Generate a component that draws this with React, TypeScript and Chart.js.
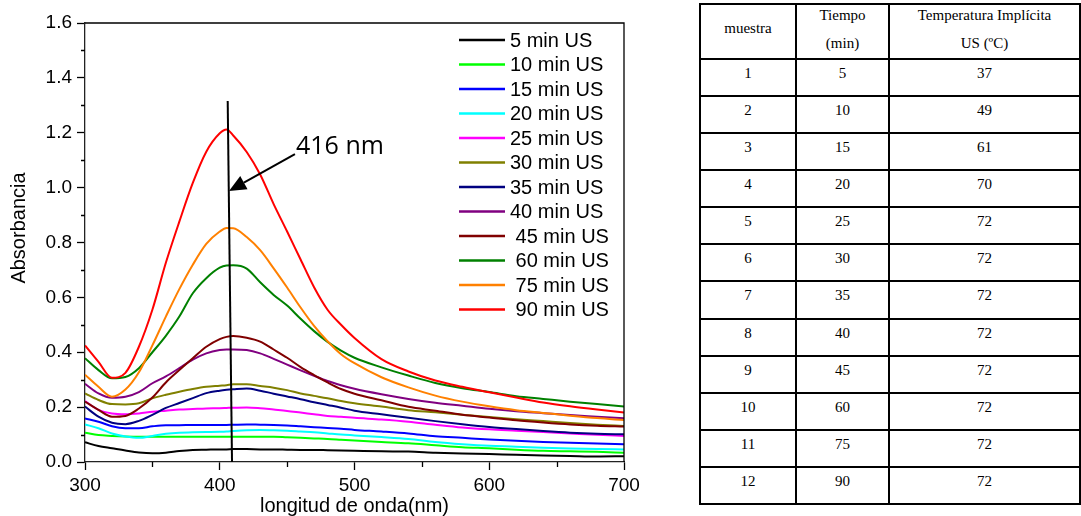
import React, { useEffect, useRef } from "react";
import { Chart, registerables } from "chart.js";

Chart.register(...registerables);

// ---------- DATA ----------
const wavelengths = [300, 310, 320, 330, 340, 350, 360, 370, 380, 390, 400, 405, 410, 420, 430, 440, 450, 460, 470, 480, 490, 500, 520, 540, 560, 580, 600, 620, 640, 660, 680, 700];

const min5 = [0.072, 0.058, 0.05, 0.042, 0.035, 0.032, 0.034, 0.04, 0.044, 0.045, 0.046, 0.046, 0.047, 0.047, 0.046, 0.046, 0.045, 0.044, 0.044, 0.043, 0.042, 0.041, 0.039, 0.038, 0.034, 0.031, 0.029, 0.026, 0.024, 0.022, 0.02, 0.021];
const min10 = [0.107, 0.098, 0.095, 0.093, 0.092, 0.092, 0.092, 0.092, 0.092, 0.092, 0.092, 0.092, 0.092, 0.092, 0.092, 0.092, 0.09, 0.088, 0.086, 0.084, 0.081, 0.078, 0.073, 0.068, 0.061, 0.054, 0.05, 0.045, 0.041, 0.039, 0.037, 0.034];
const min15 = [0.159, 0.147, 0.13, 0.123, 0.123, 0.13, 0.134, 0.134, 0.135, 0.135, 0.135, 0.135, 0.136, 0.137, 0.136, 0.135, 0.133, 0.13, 0.127, 0.124, 0.121, 0.117, 0.111, 0.104, 0.094, 0.088, 0.082, 0.077, 0.073, 0.07, 0.067, 0.065];
const min20 = [0.137, 0.123, 0.104, 0.093, 0.088, 0.095, 0.103, 0.107, 0.108, 0.109, 0.11, 0.111, 0.113, 0.116, 0.117, 0.116, 0.114, 0.111, 0.108, 0.104, 0.1, 0.097, 0.091, 0.084, 0.073, 0.065, 0.059, 0.056, 0.052, 0.049, 0.047, 0.046];
const min25 = [0.222, 0.19, 0.177, 0.174, 0.177, 0.183, 0.187, 0.191, 0.193, 0.195, 0.196, 0.197, 0.198, 0.199, 0.196, 0.191, 0.186, 0.18, 0.174, 0.168, 0.165, 0.161, 0.155, 0.147, 0.136, 0.126, 0.119, 0.114, 0.109, 0.104, 0.099, 0.095];
const min30 = [0.25, 0.226, 0.211, 0.21, 0.214, 0.232, 0.245, 0.256, 0.266, 0.274, 0.278, 0.28, 0.283, 0.283, 0.277, 0.271, 0.262, 0.25, 0.241, 0.232, 0.222, 0.214, 0.202, 0.189, 0.181, 0.172, 0.164, 0.156, 0.149, 0.142, 0.136, 0.131];
const min35 = [0.202, 0.165, 0.143, 0.138, 0.15, 0.172, 0.197, 0.215, 0.233, 0.251, 0.26, 0.263, 0.265, 0.268, 0.26, 0.249, 0.239, 0.229, 0.218, 0.208, 0.198, 0.187, 0.174, 0.161, 0.149, 0.138, 0.128, 0.12, 0.113, 0.107, 0.103, 0.101];
const min40 = [0.285, 0.25, 0.234, 0.238, 0.255, 0.287, 0.312, 0.342, 0.373, 0.396, 0.408, 0.41, 0.41, 0.408, 0.396, 0.376, 0.355, 0.334, 0.314, 0.295, 0.28, 0.267, 0.247, 0.23, 0.216, 0.205, 0.194, 0.185, 0.178, 0.171, 0.165, 0.159];
const min45 = [0.22, 0.19, 0.165, 0.168, 0.195, 0.235, 0.29, 0.335, 0.378, 0.42, 0.448, 0.456, 0.459, 0.453, 0.439, 0.41, 0.38, 0.346, 0.317, 0.29, 0.266, 0.249, 0.225, 0.201, 0.187, 0.172, 0.162, 0.152, 0.144, 0.137, 0.132, 0.129];
const min60 = [0.378, 0.335, 0.305, 0.31, 0.342, 0.4, 0.46, 0.53, 0.615, 0.67, 0.708, 0.716, 0.717, 0.705, 0.655, 0.609, 0.57, 0.522, 0.477, 0.438, 0.406, 0.38, 0.345, 0.315, 0.288, 0.269, 0.255, 0.24, 0.23, 0.22, 0.211, 0.202];
const min75 = [0.318, 0.274, 0.238, 0.264, 0.327, 0.425, 0.53, 0.63, 0.719, 0.795, 0.84, 0.853, 0.852, 0.82, 0.772, 0.706, 0.636, 0.563, 0.496, 0.44, 0.393, 0.36, 0.309, 0.272, 0.242, 0.22, 0.203, 0.189, 0.179, 0.169, 0.16, 0.153];
const min90 = [0.425, 0.365, 0.307, 0.325, 0.42, 0.555, 0.726, 0.876, 1.017, 1.131, 1.198, 1.212, 1.19, 1.13, 1.048, 0.94, 0.84, 0.738, 0.637, 0.555, 0.5, 0.452, 0.375, 0.33, 0.297, 0.274, 0.254, 0.235, 0.217, 0.203, 0.191, 0.18];

const seriesValues = [min5, min10, min15, min20, min25, min30, min35, min40, min45, min60, min75, min90];
const seriesLabels = ["5 min US", "10 min US", "15 min US", "20 min US", "25 min US", "30 min US", "35 min US", "40 min US", " 45 min US", " 60 min US", " 75 min US", " 90 min US"];
const seriesColors = ["#000000", "#00ff00", "#0000ff", "#00ffff", "#ff00ff", "#808000", "#000080", "#800080", "#800000", "#008000", "#ff8000", "#ff0000"];

const xTicksMinor = [350, 450, 550, 650];
const yTicksMinor = [0.1, 0.3, 0.5, 0.7, 0.9, 1.1, 1.3, 1.5];

// annotation (data coordinates)
const markerLine = [{ x: 405.9, y: 1.316 }, { x: 409.1, y: 0 }];
const arrowTail = { x: 455.8, y: 1.122 };
const arrowTip = { x: 406.9, y: 0.988 };
const annotationText = "416 nm";
const annotationPos = { x: 456.6, y: 1.148 };

const yTitle = "Absorbancia";
const xTitle = "longitud de onda(nm)";

// table
const tableHeader = ["muestra", "Tiempo|(min)", "Temperatura Implícita|US (ºC)"];
const muestra = [1, 2, 3, 4, 5, 6, 7, 8, 9, 10, 11, 12];
const tiempo = [5, 10, 15, 20, 25, 30, 35, 40, 45, 60, 75, 90];
const temperatura = [37, 49, 61, 70, 72, 72, 72, 72, 72, 72, 72, 72];

const SANS = "'Liberation Sans', Arial, sans-serif";
const SERIF = "'Liberation Serif', 'Times New Roman', serif";

const overlayPlugin = {
  id: "overlay",
  afterDatasetsDraw(chart: any) {
    const { ctx, chartArea: a, scales } = chart;
    const xs = scales.x;
    const ys = scales.y;
    ctx.save();
    // frame top & right
    ctx.strokeStyle = "#000";
    ctx.lineWidth = 1.3;
    ctx.beginPath();
    ctx.moveTo(a.left, a.top);
    ctx.lineTo(a.right, a.top);
    ctx.lineTo(a.right, a.bottom);
    ctx.stroke();
    // minor ticks
    ctx.beginPath();
    for (const v of yTicksMinor) {
      const py = Math.round(ys.getPixelForValue(v)) + 0.5;
      ctx.moveTo(a.left - 4, py);
      ctx.lineTo(a.left, py);
    }
    for (const v of xTicksMinor) {
      const px = Math.round(xs.getPixelForValue(v)) + 0.5;
      ctx.moveTo(px, a.bottom);
      ctx.lineTo(px, a.bottom + 5);
    }
    ctx.stroke();

    // vertical marker line
    ctx.lineWidth = 2;
    ctx.beginPath();
    ctx.moveTo(xs.getPixelForValue(markerLine[0].x), ys.getPixelForValue(markerLine[0].y));
    ctx.lineTo(xs.getPixelForValue(markerLine[1].x), ys.getPixelForValue(markerLine[1].y));
    ctx.stroke();

    // arrow
    const tx = xs.getPixelForValue(arrowTail.x), ty = ys.getPixelForValue(arrowTail.y);
    const hx = xs.getPixelForValue(arrowTip.x), hy = ys.getPixelForValue(arrowTip.y);
    const ang = Math.atan2(hy - ty, hx - tx);
    const headLen = 17, headW = 7.5;
    const bx = hx - headLen * Math.cos(ang), by = hy - headLen * Math.sin(ang);
    ctx.beginPath();
    ctx.moveTo(tx, ty);
    ctx.lineTo(bx, by);
    ctx.stroke();
    ctx.fillStyle = "#000";
    ctx.beginPath();
    ctx.moveTo(hx, hy);
    ctx.lineTo(bx + headW * Math.sin(ang), by - headW * Math.cos(ang));
    ctx.lineTo(bx - headW * Math.sin(ang), by + headW * Math.cos(ang));
    ctx.closePath();
    ctx.fill();

    // annotation text
    ctx.font = "25px 'Open Sans', 'Noto Sans', sans-serif";
    ctx.textAlign = "left";
    ctx.textBaseline = "middle";
    ctx.fillText(annotationText, xs.getPixelForValue(annotationPos.x), ys.getPixelForValue(annotationPos.y));

    // legend
    const lx0 = a.left + 374;
    const lx1 = a.left + 420;
    const ltx = a.left + 425;
    ctx.font = "20px " + SANS;
    ctx.textAlign = "left";
    ctx.textBaseline = "middle";
    chart.data.datasets.forEach((ds: any, i: number) => {
      const yy = a.top + 17 + i * 24.5;
      ctx.strokeStyle = ds.borderColor;
      ctx.lineWidth = 2.5;
      ctx.beginPath();
      ctx.moveTo(lx0, yy);
      ctx.lineTo(lx1, yy);
      ctx.stroke();
      ctx.fillStyle = "#000";
      ctx.fillText(ds.label, ltx, yy + 1);
    });

    // axis titles
    ctx.fillStyle = "#000";
    ctx.font = "20px " + SANS;
    ctx.textAlign = "center";
    ctx.textBaseline = "middle";
    ctx.fillText(xTitle, (a.left + a.right) / 2, 506);
    ctx.translate(19, 228);
    ctx.rotate(-Math.PI / 2);
    ctx.fillText(yTitle, 0, 0);
    ctx.restore();
  },
};

export default function App() {
  const canvasRef = useRef<HTMLCanvasElement>(null);

  useEffect(() => {
    const datasets = seriesValues.map((vals, i) => ({
      label: seriesLabels[i],
      data: vals.map((v, j) => ({ x: wavelengths[j], y: v })),
      borderColor: seriesColors[i],
      backgroundColor: seriesColors[i],
      borderWidth: 2,
      pointRadius: 0,
      fill: false,
      cubicInterpolationMode: "monotone" as const,
      order: seriesValues.length - i,
    }));
    const chart = new Chart(canvasRef.current as HTMLCanvasElement, {
      type: "line",
      data: { datasets },
      options: {
        responsive: false,
        animation: false,
        devicePixelRatio: 1,
        layout: { padding: { left: 0, top: 23, right: 66, bottom: 0 } },
        plugins: { legend: { display: false }, tooltip: { enabled: false } },
        scales: {
          x: {
            type: "linear",
            min: 300,
            max: 700,
            ticks: { stepSize: 100, color: "#000", font: { family: SANS, size: 19 }, padding: 4, maxRotation: 0 },
            grid: { drawOnChartArea: false, tickLength: 8, color: "#000", tickColor: "#000", tickWidth: 1.3 },
            border: { color: "#222", width: 1.3 },
            afterFit: (s: any) => { s.height = 54; },
          },
          y: {
            type: "linear",
            min: 0,
            max: 1.6,
            ticks: {
              stepSize: 0.2,
              color: "#000",
              font: { family: SANS, size: 19 },
              padding: 5,
              callback: (v: any) => Number(v).toFixed(1),
            },
            grid: { drawOnChartArea: false, tickLength: 8, color: "#000", tickColor: "#000", tickWidth: 1.3 },
            border: { color: "#222", width: 1.3 },
            afterFit: (s: any) => { s.width = 85; },
          },
        },
      },
      plugins: [overlayPlugin],
    });
    return () => chart.destroy();
  }, []);

  const cellBase: React.CSSProperties = {
    boxSizing: "border-box",
    borderRight: "2px solid #000",
    borderBottom: "2px solid #000",
    textAlign: "center",
    overflow: "hidden",
  };

  const cells: React.ReactNode[] = [];
  tableHeader.forEach((h, c) => {
    const parts = h.split("|");
    cells.push(
      <div key={"h" + c} style={{ ...cellBase }}>
        {parts.length === 1 ? (
          <div style={{ paddingTop: 9, lineHeight: "28px" }}>{parts[0]}</div>
        ) : (
          <div style={{ marginTop: -4, lineHeight: "28px" }}>
            {parts.map((p, k) => (
              <div key={k}>{p}</div>
            ))}
          </div>
        )}
      </div>
    );
  });
  muestra.forEach((m, r) => {
    [m, tiempo[r], temperatura[r]].forEach((v, c) => {
      cells.push(
        <div key={"r" + r + "c" + c} style={{ ...cellBase, paddingTop: 3, lineHeight: "20px" }}>
          {v}
        </div>
      );
    });
  });

  return (
    <div style={{ position: "fixed", left: 0, top: 0, width: 1081, height: 516, background: "#fff", overflow: "hidden" }}>
      <canvas ref={canvasRef} width={690} height={516} style={{ position: "absolute", left: 0, top: 0, width: 690, height: 516 }} />
      <div
        style={{
          position: "absolute",
          left: 699,
          top: 3,
          display: "grid",
          gridTemplateColumns: "96px 93px 191px",
          gridTemplateRows: "55px repeat(12, 37.08px)",
          borderLeft: "2px solid #000",
          borderTop: "2px solid #000",
          fontFamily: SERIF,
          fontSize: 15,
          color: "#000",
        }}
      >
        {cells}
      </div>
    </div>
  );
}
